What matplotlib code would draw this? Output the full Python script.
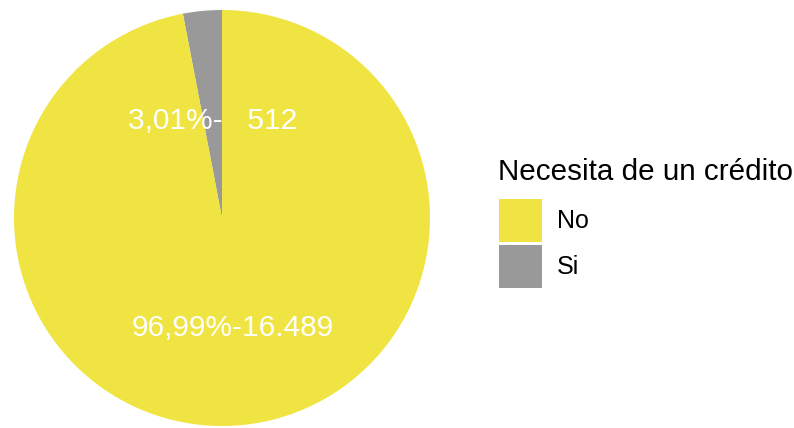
import numpy as np
import matplotlib.pyplot as plt
from matplotlib.patches import Rectangle

plt.rcParams['font.family'] = ['Liberation Sans', 'DejaVu Sans']

# data
categories = ['No', 'Si']
counts = [16489, 512]
pct_labels = ['96,99%-16.489', '3,01%-   512']
colors = ['#F0E442', '#999999']
legend_title = 'Necesita de un crédito'

W, H = 794, 428
fig = plt.figure(figsize=(W / 100, H / 100), dpi=100)

# pie axes: centre (222, 218), radius 208 px
cx, cy, r = 222, 218, 208
ax = fig.add_axes([(cx - r) / W, (H - cy - r) / H, 2 * r / W, 2 * r / H])

# ggplot order: 'Si' goes counterclockwise from 12 o'clock, 'No' fills the rest
order = [1, 0]
vals = [counts[i] for i in order]
ax.pie(vals, colors=[colors[i] for i in order], startangle=90, counterclock=True,
       radius=1, wedgeprops=dict(linewidth=0))
ax.set_xlim(-1, 1)
ax.set_ylim(-1, 1)
ax.set_aspect('equal')
ax.axis('off')

total = sum(counts)
start = 90.0
label_r = {1: 0.47, 0: 0.53}
for i in order:
    span = 360.0 * counts[i] / total
    mid = np.deg2rad(start + span / 2)
    rr = label_r[i]
    ax.text(rr * np.cos(mid), rr * np.sin(mid), pct_labels[i], color='white',
            fontsize=21.5, ha='center', va='center')
    start += span

# legend, drawn in pixel positions
def px(x, y):
    return x / W, 1 - y / H

fig.text(*px(498, 172), legend_title, fontsize=21.3, ha='left', va='center')
key_tops = [199, 245]
for cat, col, top in zip(categories, colors, key_tops):
    x0, y1 = px(499, top + 43)
    fig.patches.append(Rectangle((x0, y1), 43 / W, 43 / H, transform=fig.transFigure,
                                 facecolor=col, edgecolor='none'))
    fig.text(*px(557, top + 22), cat, fontsize=18, ha='left', va='center')

fig.savefig('out.png', dpi=100, facecolor='white')
